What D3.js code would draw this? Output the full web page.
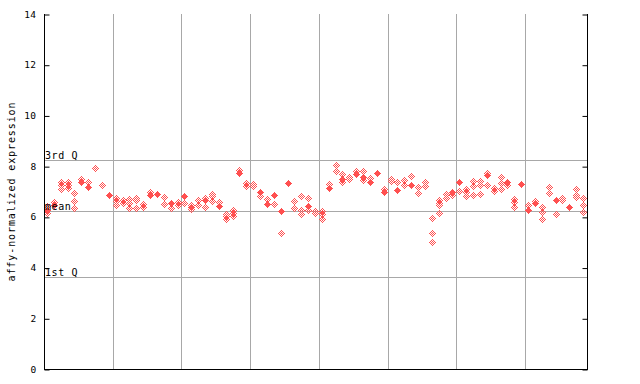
<!DOCTYPE html>
<html><head><meta charset="utf-8">
<script src="https://cdn.jsdelivr.net/npm/d3@7"></script>
<style>
body{margin:0;background:#fff;}
svg{display:block;}
text{font-family:"DejaVu Sans Mono",monospace;font-size:10px;letter-spacing:0.6px;fill:#000;}
</style></head><body>
<script>
// ---- data ----
const yTicks = [0, 2, 4, 6, 8, 10, 12, 14];
const refLabels = ["3rd Q", "mean", "1st Q"];
const refValues = [8.23, 6.23, 3.62];
const groupBreaks = [10, 20, 30, 40, 50, 60, 70];
const sampleCount = 79;
// replicate values per sample (hollow markers)
const hollowValues = [
  [6.4, 6.15], [6.58], [7.35, 7.22, 7.08], [7.35, 7.22, 7.1], [6.93, 6.62, 6.32],
  [7.48], [7.36], [7.91], [7.22], [],
  [6.74, 6.61, 6.45], [6.66, 6.53], [6.69, 6.53, 6.32], [6.74, 6.64, 6.32], [6.5, 6.37],
  [6.95], [], [6.75, 6.47], [6.32], [6.56, 6.43],
  [6.53], [6.45, 6.3], [6.64, 6.43], [6.73, 6.37], [6.9, 6.8, 6.61],
  [6.56], [6.11, 6.0, 5.88], [6.24, 6.14, 6.03], [7.82], [7.3, 7.2],
  [7.26, 7.18], [6.82], [6.69], [6.5], [5.35],
  [], [6.61, 6.32], [6.8, 6.27, 6.09], [6.73, 6.27], [6.21, 6.14],
  [6.21, 6.09, 5.9], [7.28], [8.03, 7.8], [7.69, 7.37], [7.57, 7.48],
  [7.77], [7.77, 7.45], [7.52], [], [7.08],
  [7.48, 7.4], [7.36], [7.43, 7.24], [7.6], [7.16, 6.93],
  [7.35, 7.19], [5.94, 5.35, 5.0], [6.64, 6.53, 6.44, 6.14], [6.9, 6.73], [6.83],
  [7.0], [7.08, 6.98, 6.82], [7.4, 7.19, 6.85], [7.4, 7.24, 6.9], [7.72, 7.22],
  [7.11, 7.0], [7.56, 7.32, 7.08], [7.24], [6.69, 6.56, 6.37], [],
  [6.43], [6.59], [6.35, 6.19, 5.9], [7.14, 6.93], [6.11],
  [6.74, 6.66], [], [7.06, 6.85, 6.77], [6.74, 6.45, 6.19]
];
// overlapping replicates (solid markers), null = none
const solidValues = [
  6.27, 6.44, null, null, null, 7.35, 7.15, null, null, 6.83,
  null, null, null, null, null, 6.85, 6.9, null, 6.53, null,
  6.8, 6.37, null, 6.64, null, 6.4, null, null, 7.72, null,
  null, 6.98, 6.48, 6.83, 6.2, 7.32, null, null, 6.4, null,
  null, 7.11, null, 7.48, null, 7.66, 7.56, 7.35, 7.7, 6.95,
  null, 7.03, null, 7.23, null, null, null, null, null, 6.95,
  7.35, null, null, null, 7.64, null, null, 7.35, null, 7.27,
  6.27, 6.51, null, null, 6.66, null, 6.37, null, null
];

// ---- chart ----
const W = 640, H = 384;
const L = 44, R = 587, T = 14, B = 369;
const red = "#ff5050";
const svg = d3.select("body").append("svg").attr("width", W).attr("height", H);
const x = d3.scaleLinear().domain([0, sampleCount]).range([L, R]);
const y = d3.scaleLinear().domain([0, 14]).range([B, T]);

// vertical group lines
svg.append("g").selectAll("line").data(groupBreaks).join("line")
  .attr("x1", d => Math.round(x(d)) + 0.5).attr("x2", d => Math.round(x(d)) + 0.5)
  .attr("y1", T).attr("y2", B)
  .attr("stroke", "#a8a8a8").attr("stroke-width", 1);
// horizontal reference lines
svg.append("g").selectAll("line").data(refValues).join("line")
  .attr("x1", L).attr("x2", R)
  .attr("y1", d => Math.round(y(d)) + 0.5).attr("y2", d => Math.round(y(d)) + 0.5)
  .attr("stroke", "#a8a8a8").attr("stroke-width", 1);

// points
function pixels(cx, cy, solid) {
  let p = "";
  for (let dx = -3; dx <= 3; dx++) for (let dy = -3; dy <= 3; dy++) {
    const m = Math.abs(dx) + Math.abs(dy);
    if (m > 3) continue;
    if (!solid && m % 2 === 0) continue;
    p += `M${cx + dx},${cy + dy}h1v1h-1z`;
  }
  return p;
}
const pts = [];
hollowValues.forEach((vals, i) => vals.forEach(v => pts.push({i, v, s: false})));
solidValues.forEach((v, i) => { if (v != null) pts.push({i, v, s: true}); });
svg.append("g").selectAll("path").data(pts).join("path")
  .attr("d", d => pixels(Math.floor(x(d.i + 0.5)), Math.floor(y(d.v)), d.s))
  .attr("fill", red).attr("shape-rendering", "crispEdges");

// reference labels
svg.append("g").selectAll("text").data(refLabels).join("text")
  .attr("x", L + 1).attr("y", (d, k) => Math.round(y(refValues[k])) - 1)
  .text(d => d);

// axes
const yAxis = d3.axisLeft(y).tickValues(yTicks).tickSize(-5).tickPadding(8).tickFormat(d3.format("d"));
const gl = svg.append("g").attr("transform", `translate(${L + 0.5},0)`).call(yAxis);
const gr = svg.append("g").attr("transform", `translate(${R + 0.5},0)`)
  .call(d3.axisRight(y).tickValues(yTicks).tickSize(-5).tickFormat(""));
[gl, gr].forEach(g => {
  g.select(".domain").attr("stroke", "#000").attr("d", `M0,${T}V${B + 0.5}`);
  g.selectAll(".tick line").attr("stroke", "#000").attr("transform", "translate(0,0.5)");
  g.selectAll("text").style("font-family", "DejaVu Sans Mono, monospace").style("font-size", "9.5px").style("letter-spacing", "0.4px").attr("fill", "#000");
});
svg.append("line").attr("x1", L).attr("x2", R + 1).attr("y1", B + 0.5).attr("y2", B + 0.5).attr("stroke", "#000");

// y title
svg.append("text")
  .attr("transform", `translate(15,${(T + B) / 2}) rotate(-90)`)
  .attr("text-anchor", "middle")
  .style("letter-spacing", "0.9px")
  .text("affy-normalized expression");
</script>
</body></html>
